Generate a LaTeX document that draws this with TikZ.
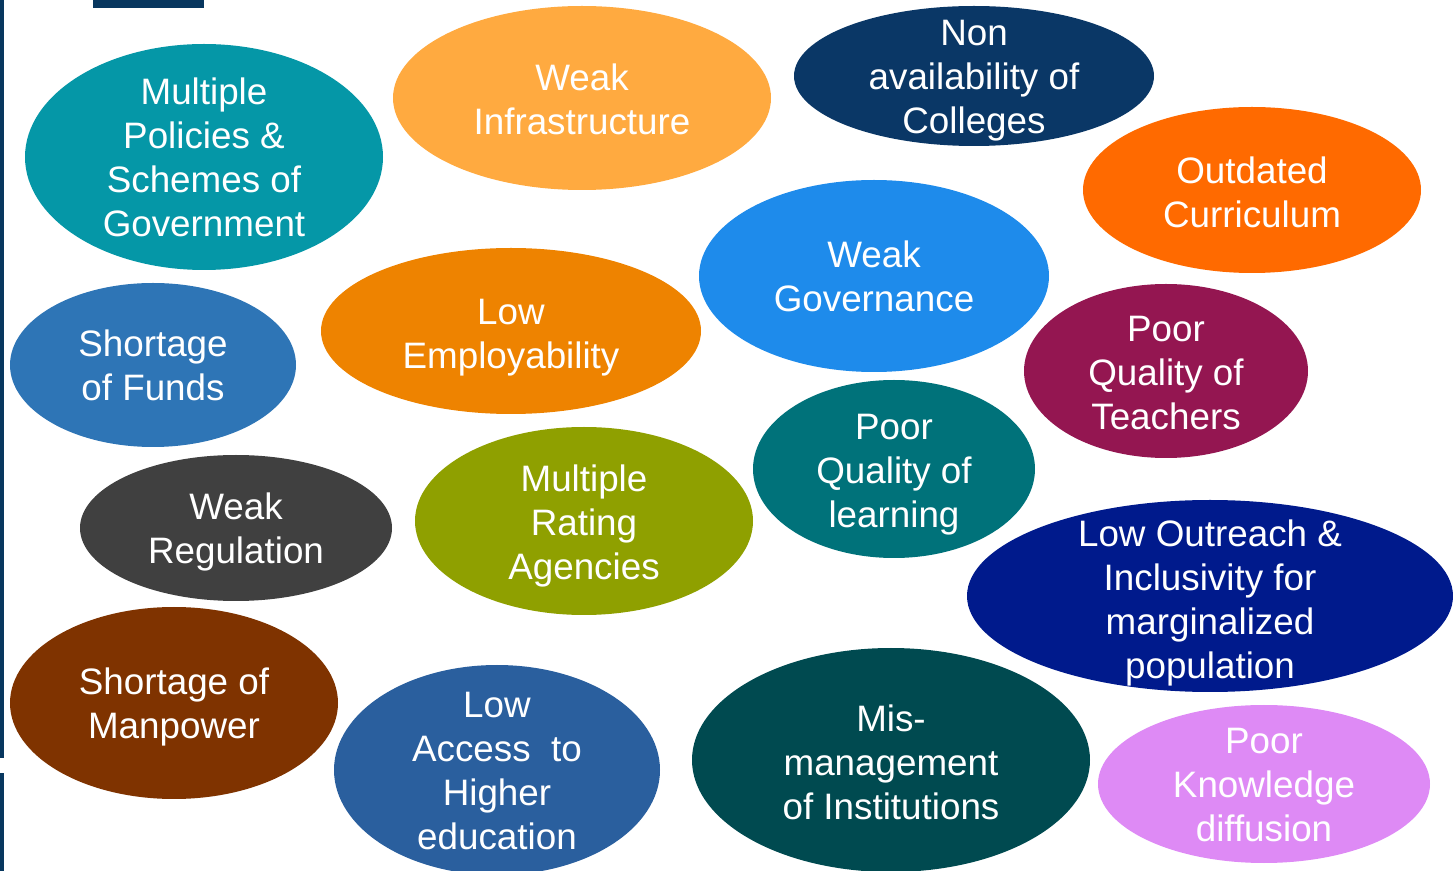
\documentclass[tikz,border=0pt]{standalone}
\usepackage{fontspec}
\setmainfont{Liberation Sans}
\usetikzlibrary{shapes.geometric}
\definecolor{navy}{HTML}{08375F}
\definecolor{cA}{HTML}{0597A7}
\definecolor{cB}{HTML}{FFAA40}
\definecolor{cC}{HTML}{0A3766}
\definecolor{cD}{HTML}{FF6A00}
\definecolor{cE}{HTML}{1E8BEB}
\definecolor{cF}{HTML}{2E75B6}
\definecolor{cG}{HTML}{EE8300}
\definecolor{cH}{HTML}{941651}
\definecolor{cI}{HTML}{404040}
\definecolor{cJ}{HTML}{8FA000}
\definecolor{cK}{HTML}{00727A}
\definecolor{cL}{HTML}{001A8C}
\definecolor{cM}{HTML}{7F3300}
\definecolor{cN}{HTML}{2A5F9E}
\definecolor{cO}{HTML}{004A50}
\definecolor{cP}{HTML}{DE8AF5}
\tikzset{
  bubble/.style n args={3}{ellipse, inner sep=0pt, fill=#1, minimum width=#2*1pt, minimum height=#3*1pt},
  btext/.style={inner sep=0pt, yshift=-2.5pt, text=white, align=center, font=\fontsize{18.4pt}{22pt}\selectfont}
}
\begin{document}
\begin{tikzpicture}[x=0.5pt,y=-0.5pt]
\useasboundingbox (0,0) rectangle (1453,871);
\fill[navy] (0,0) rectangle (4,758);
\fill[navy] (0,773) rectangle (4,871);
\fill[navy] (93,0) rectangle (204,8);
\node[bubble={cA}{179}{113}] (pol) at (204,157) {};
\node[btext,yshift=2.5pt] (pol-t) at (pol) {Multiple\\Policies \&\\Schemes of\\Government};
\node[bubble={cB}{189}{92}] (inf) at (582,98) {};
\node[btext,yshift=2pt] (inf-t) at (inf) {Weak\\Infrastructure};
\node[bubble={cC}{180}{70}] (col) at (974,76) {};
\node[btext] (col-t) at (col) {Non\\availability of\\Colleges};
\node[bubble={cD}{169}{83}] (cur) at (1252,190) {};
\node[btext,yshift=1.5pt] (cur-t) at (cur) {Outdated\\Curriculum};
\node[bubble={cE}{175}{96}] (gov) at (874,276) {};
\node[btext,yshift=2.25pt] (gov-t) at (gov) {Weak\\Governance};
\node[bubble={cF}{143}{82}] (fun) at (153,365) {};
\node[btext,yshift=2.25pt] (fun-t) at (fun) {Shortage\\of Funds};
\node[bubble={cG}{190}{83}] (emp) at (511,331) {};
\node[btext,yshift=-1pt] (emp-t) at (emp) {Low\\Employability};
\node[bubble={cH}{142}{87}] (tea) at (1166,371) {};
\node[btext,yshift=1.25pt] (tea-t) at (tea) {Poor\\Quality of\\Teachers};
\node[bubble={cI}{156}{73}] (reg) at (236,528) {};
\node[btext,yshift=0.5pt] (reg-t) at (reg) {Weak\\Regulation};
\node[bubble={cJ}{169}{94}] (rat) at (584,521) {};
\node[btext] (rat-t) at (rat) {Multiple\\Rating\\Agencies};
\node[bubble={cK}{141}{89}] (lea) at (894,469) {};
\node[btext,yshift=-0.5pt] (lea-t) at (lea) {Poor\\Quality of\\learning};
\node[bubble={cL}{243}{96}] (out) at (1210,596) {};
\node[btext,yshift=-0.75pt] (out-t) at (out) {Low Outreach \&\\Inclusivity for\\marginalized\\population};
\node[bubble={cM}{164}{96}] (man) at (174,703) {};
\node[btext,yshift=0.5pt] (man-t) at (man) {Shortage of\\Manpower};
\node[bubble={cN}{163}{105}] (acc) at (497,770) {};
\node[btext,yshift=1.75pt] (acc-t) at (acc) {Low\\Access~~to\\Higher\\education};
\node[bubble={cO}{199}{112}] (mis) at (891,760) {};
\node[btext,yshift=1.5pt] (mis-t) at (mis) {Mis-\\management\\of Institutions};
\node[bubble={cP}{166}{79}] (kno) at (1264,784) {};
\node[btext,yshift=2pt] (kno-t) at (kno) {Poor\\Knowledge\\diffusion};
\end{tikzpicture}
\end{document}
